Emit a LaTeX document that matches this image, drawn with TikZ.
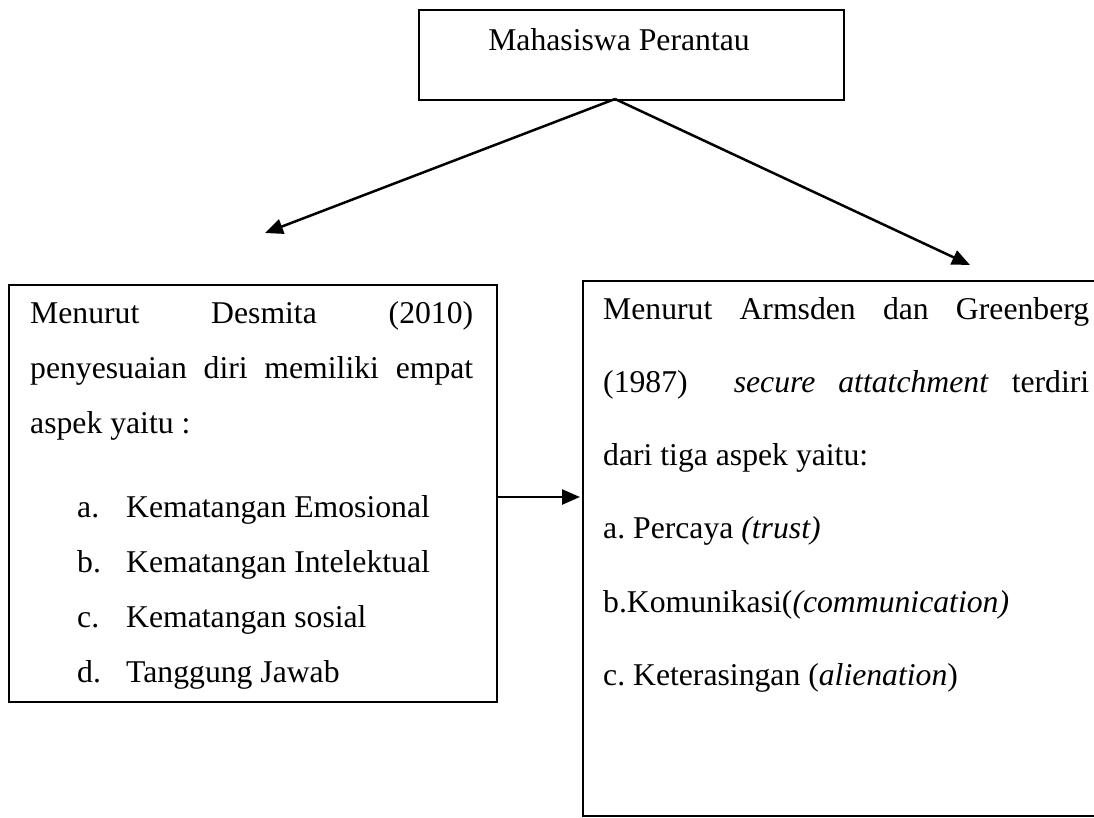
\documentclass[tikz,border=0pt]{standalone}
\usepackage{fontspec}
\setmainfont{Liberation Serif}
\usetikzlibrary{arrows.meta}
\frenchspacing
\begin{document}
\begin{tikzpicture}[x=1pt,y=-1pt,
  box/.style={draw,line width=2pt,inner sep=0pt,anchor=north west},
  txt/.style={anchor=base west,inner sep=0pt,font=\fontsize{31.7}{38}\selectfont},
  conn/.style={line width=2.5pt,-{Triangle[length=18pt,width=15pt]}}]
\clip (0,0) rectangle (1094,817);
% boxes
\node[box,minimum width=425pt,minimum height=90pt] (top) at (418,9) {};
\node[box,minimum width=488pt,minimum height=417pt] (left) at (8,284) {};
\node[box,minimum width=530pt,minimum height=535pt] (right) at (582,280) {};
% top text
\node[txt,anchor=base] (ttop) at (619,50) {Mahasiswa Perantau};
% left box text
\node[txt] (l1) at (30,323) {\makebox[443pt][s]{Menurut Desmita (2010)}};
\node[txt] (l2) at (30,378) {\makebox[443pt][s]{penyesuaian diri memiliki empat}};
\node[txt] (l3) at (30,433) {aspek yaitu :};
\node[txt] (la) at (77,517) {a.};
\node[txt] (lat) at (126,517) {Kematangan Emosional};
\node[txt] (lb) at (77,572) {b.};
\node[txt] (lbt) at (126,572) {Kematangan Intelektual};
\node[txt] (lc) at (77,627) {c.};
\node[txt] (lct) at (126,627) {Kematangan sosial};
\node[txt] (ld) at (77,682) {d.};
\node[txt] (ldt) at (126,682) {Tanggung Jawab};
% right box text
\node[txt] (r1) at (603,319) {\makebox[486pt][s]{Menurut Armsden dan Greenberg}};
\node[txt] (r2) at (603,392) {\makebox[486pt][s]{(1987)\ \ \textit{secure} \textit{attatchment} terdiri}};
\node[txt] (r3) at (603,465) {dari tiga aspek yaitu:};
\node[txt] (r4) at (603,538) {a. Percaya \textit{(trust)}};
\node[txt] (r5) at (603,612) {b.Komunikasi(\textit{(communication)}};
\node[txt] (r6) at (603,685) {c. Keterasingan (\textit{alienation})};
% connectors
\coordinate (apex) at (615,99);
\coordinate (lt) at (265,233);
\coordinate (rt) at (970,265);
\coordinate (hy) at (0,497);
\draw[conn] (apex) -- (lt);
\draw[conn] (apex) -- (rt);
\draw[conn,shorten >=2pt] (left.east |- hy) -- (right.west |- hy);
\end{tikzpicture}
\end{document}
